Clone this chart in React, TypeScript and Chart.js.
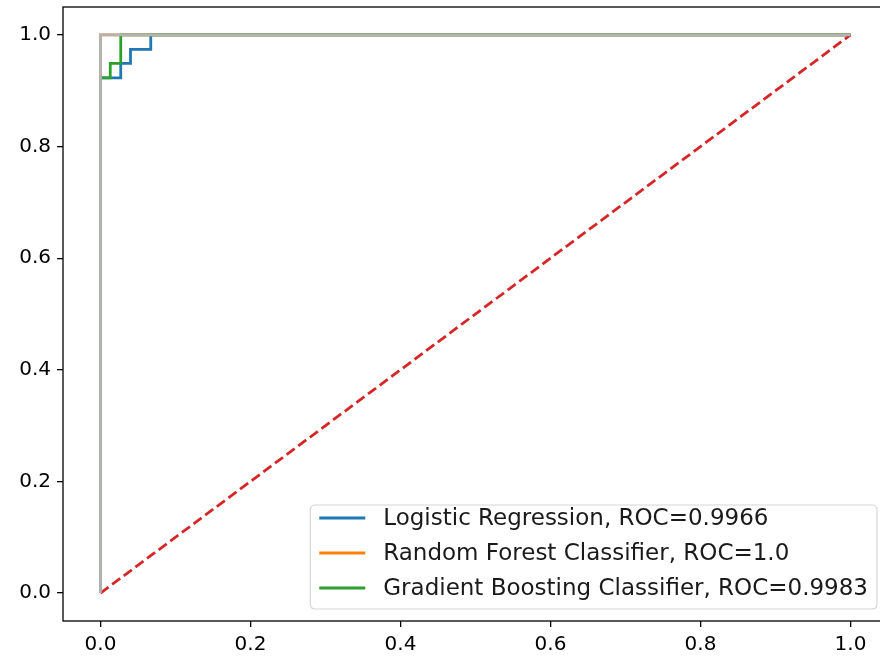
import React, { useEffect, useRef } from "react";
import { Chart, registerables } from "chart.js";

Chart.register(...registerables);

const tickValues = [0, 0.2, 0.4, 0.6, 0.8, 1.0];

const seriesLabels = [
  "Logistic Regression, ROC=0.9966",
  "Random Forest Classifier, ROC=1.0",
  "Gradient Boosting Classifier, ROC=0.9983",
];
const seriesColors = ["#1f77b4", "#ff7f0e", "#2ca02c"];

const lrFpr = [0, 0, 0.027, 0.027, 0.04, 0.04, 0.067, 0.067, 1];
const lrTpr = [0, 0.923, 0.923, 0.949, 0.949, 0.974, 0.974, 1, 1];

const rfFpr = [0, 0, 1];
const rfTpr = [0, 1, 1];

const gbFpr = [0, 0, 0.013, 0.013, 0.027, 0.027, 1];
const gbTpr = [0, 0.923, 0.923, 0.949, 0.949, 1, 1];

const diagX = [0, 1];
const diagY = [0, 1];

const refX = [0, 0, 1];
const refY = [0, 1, 1];

const zip = (xs: number[], ys: number[]) => xs.map((x, i) => ({ x, y: ys[i] }));

const FONT = "'DejaVu Sans', sans-serif";

const framePlugin = {
  id: "frameAndLegend",
  afterDraw(chart: any) {
    const { ctx, chartArea } = chart;
    const { left, top, right, bottom } = chartArea;
    ctx.save();
    ctx.strokeStyle = "#000";
    ctx.lineWidth = 1.3;
    ctx.strokeRect(left, top, right - left, bottom - top);

    // legend
    const fs = 23;
    ctx.font = `${fs}px ${FONT}`;
    const maxW = Math.max(...seriesLabels.map((l) => ctx.measureText(l).width));
    const pad = 9;
    const handle = 46;
    const gap = 18;
    const boxW = pad + handle + gap + maxW + pad;
    const boxH = 104;
    const bx = right - 11 - boxW;
    const by = bottom - 12 - boxH;
    ctx.beginPath();
    const r = 5;
    ctx.moveTo(bx + r, by);
    ctx.lineTo(bx + boxW - r, by);
    ctx.quadraticCurveTo(bx + boxW, by, bx + boxW, by + r);
    ctx.lineTo(bx + boxW, by + boxH - r);
    ctx.quadraticCurveTo(bx + boxW, by + boxH, bx + boxW - r, by + boxH);
    ctx.lineTo(bx + r, by + boxH);
    ctx.quadraticCurveTo(bx, by + boxH, bx, by + boxH - r);
    ctx.lineTo(bx, by + r);
    ctx.quadraticCurveTo(bx, by, bx + r, by);
    ctx.closePath();
    ctx.fillStyle = "rgba(255,255,255,0.8)";
    ctx.fill();
    ctx.strokeStyle = "#d6d6d6";
    ctx.lineWidth = 1.2;
    ctx.stroke();

    const rowsY = [by + 13, by + 48, by + 83];
    seriesLabels.forEach((lab, i) => {
      const y = rowsY[i];
      ctx.beginPath();
      ctx.strokeStyle = seriesColors[i];
      ctx.lineWidth = 2.8;
      ctx.moveTo(bx + pad, y);
      ctx.lineTo(bx + pad + handle, y);
      ctx.stroke();
      ctx.fillStyle = "#1a1a1a";
      ctx.textBaseline = "middle";
      ctx.textAlign = "left";
      ctx.fillText(lab, bx + pad + handle + gap, y + 1);
    });
    ctx.restore();
  },
};

export default function App() {
  const ref = useRef<HTMLCanvasElement | null>(null);

  useEffect(() => {
    if (!ref.current) return;
    const lineBase = {
      showLine: true,
      pointRadius: 0,
      pointHoverRadius: 0,
      borderWidth: 2.8,
      fill: false,
      tension: 0,
    };
    const chart = new Chart(ref.current, {
      type: "scatter",
      data: {
        datasets: [
          { ...lineBase, label: seriesLabels[0], data: zip(lrFpr, lrTpr), borderColor: seriesColors[0], order: 4 },
          { ...lineBase, label: seriesLabels[1], data: zip(rfFpr, rfTpr), borderColor: seriesColors[1], order: 3 },
          { ...lineBase, label: seriesLabels[2], data: zip(gbFpr, gbTpr), borderColor: seriesColors[2], order: 2 },
          { ...lineBase, label: "diag", data: zip(diagX, diagY), borderColor: "#d62728", borderDash: [10, 4.5], order: 1 },
          { ...lineBase, label: "ref", data: zip(refX, refY), borderColor: "#b3b3b3", order: 0 },
        ] as any,
      },
      options: {
        responsive: false,
        animation: false,
        devicePixelRatio: 1,
        layout: { padding: { top: 7, right: 4, left: 0, bottom: 0 } },
        plugins: {
          legend: { display: false },
          tooltip: { enabled: false },
        },
        scales: {
          x: {
            type: "linear",
            min: -0.05,
            max: 1.05,
            afterBuildTicks: (axis: any) => {
              axis.ticks = tickValues.map((v) => ({ value: v }));
            },
            afterFit: (axis: any) => {
              axis.height = 41;
              axis.paddingLeft = 0;
              axis.paddingRight = 0;
            },
            border: { display: false },
            grid: { drawOnChartArea: false, drawTicks: true, tickLength: 6, color: "#000", lineWidth: 1.3 },
            ticks: {
              padding: 6,
              color: "#000",
              font: { family: FONT, size: 20 },
              maxRotation: 0,
              callback: (v: any) => Number(v).toFixed(1),
            },
          },
          y: {
            type: "linear",
            min: -0.05,
            max: 1.05,
            afterBuildTicks: (axis: any) => {
              axis.ticks = tickValues.map((v) => ({ value: v }));
            },
            afterFit: (axis: any) => {
              axis.width = 63;
              axis.paddingTop = 0;
              axis.paddingBottom = 0;
            },
            border: { display: false },
            grid: { drawOnChartArea: false, drawTicks: true, tickLength: 6, color: "#000", lineWidth: 1.3 },
            ticks: {
              padding: 6,
              color: "#000",
              font: { family: FONT, size: 20 },
              callback: (v: any) => Number(v).toFixed(1),
            },
          },
        },
      },
      plugins: [framePlugin],
    });
    return () => chart.destroy();
  }, []);

  return (
    <div
      style={{
        position: "absolute",
        left: 0,
        top: 0,
        width: 880,
        height: 662,
        overflow: "hidden",
        background: "#fff",
      }}
    >
      <canvas ref={ref} width={892} height={662} style={{ width: 892, height: 662, display: "block" }} />
    </div>
  );
}
